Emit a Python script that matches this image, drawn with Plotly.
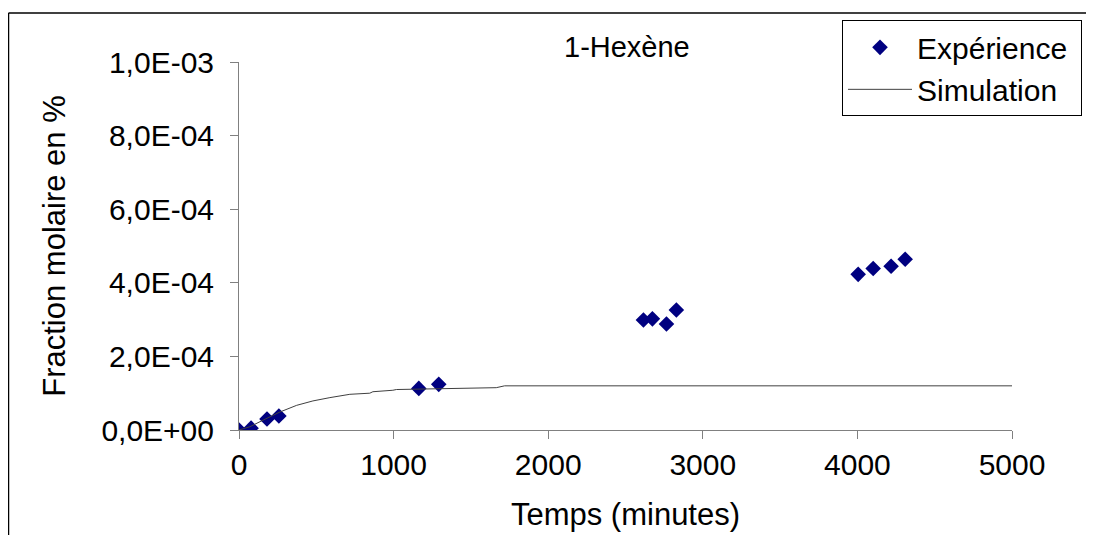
import plotly.graph_objects as go

# Data
exp_t = [0, 78, 181, 258, 1163, 1292, 2616, 2674, 2765, 2829, 4005, 4102, 4218, 4309]
exp_v = [0.0, 0.5e-5, 3.0e-5, 3.8e-5, 1.13e-4, 1.24e-4, 2.99e-4, 3.02e-4, 2.88e-4, 3.26e-4,
         4.23e-4, 4.39e-4, 4.45e-4, 4.64e-4]

sim_t = [0, 30, 71, 157, 265, 373, 478, 588, 717, 846, 866, 995, 1018, 1664, 1718, 5000]
sim_v = [0.0, 0.4e-5, 0.9e-5, 2.7e-5, 4.9e-5, 6.7e-5, 7.9e-5, 8.8e-5, 9.7e-5, 1.0e-4,
         1.04e-4, 1.08e-4, 1.1e-4, 1.15e-4, 1.2e-4, 1.2e-4]

x_ticks = [0, 1000, 2000, 3000, 4000, 5000]
y_ticks = [0, 2e-4, 4e-4, 6e-4, 8e-4, 1e-3]
y_ticktext = ["0,0E+00", "2,0E-04", "4,0E-04", "6,0E-04", "8,0E-04", "1,0E-03"]

FONT = "Liberation Sans, Arial, sans-serif"

fig = go.Figure()
fig.add_trace(go.Scatter(
    x=exp_t, y=exp_v, mode="markers", name="Expérience\u00a0",
    marker=dict(symbol="diamond", size=12, color="#000080", line=dict(width=0)),
))
fig.add_trace(go.Scatter(
    x=sim_t, y=sim_v, mode="lines", name="Simulation",
    line=dict(color="#404040", width=1),
))

# page body has an 8px margin: work in screen px and shift
OFF = 8
W, H = 1094, 535
PL, PR, PT, PB = 239, 1012, 59, 430          # plot area in screen px
L = PL - OFF
T = PT - OFF
pw, ph = PR - PL, PB - PT
R = W - L - pw
B = H - T - ph

def sx(px):
    return (px - PL) / pw

def sy(py):
    return (PB - py) / ph

fig.update_layout(
    width=W, height=H,
    margin=dict(l=L, r=R, t=T, b=B),
    paper_bgcolor="white", plot_bgcolor="white",
    font=dict(family=FONT, size=30, color="black"),
    showlegend=True,
    legend=dict(
        x=sx(842), y=sy(17), xanchor="left", yanchor="top",
        bordercolor="black", borderwidth=1, bgcolor="white",
        font=dict(family=FONT, size=30), tracegroupgap=0, itemwidth=64,
    ),
    xaxis=dict(
        range=[0, 5000], tickvals=x_ticks, ticktext=[str(v) for v in x_ticks],
        showline=True, linecolor="#808080", linewidth=1,
        ticks="outside", ticklen=8, tickcolor="#808080",
        showgrid=False, zeroline=False,
        tickfont=dict(family=FONT, size=30),
        title=dict(text="Temps (minutes)", font=dict(family=FONT, size=31), standoff=23),
    ),
    yaxis=dict(
        range=[0, 1e-3], tickvals=y_ticks, ticktext=y_ticktext,
        showline=True, linecolor="#808080", linewidth=1,
        ticks="outside", ticklen=8, tickcolor="#808080",
        showgrid=False, zeroline=False,
        tickfont=dict(family=FONT, size=30),
        ticklabelstandoff=10,
        title=dict(text="Fraction molaire en %", font=dict(family=FONT, size=31), standoff=26),
    ),
    annotations=[dict(
        text="1-Hexène", xref="paper", yref="paper",
        x=sx(627), y=sy(44), xanchor="center", yanchor="middle",
        showarrow=False, font=dict(family=FONT, size=29),
    )],
    shapes=[
        dict(type="line", xref="paper", yref="paper",
             x0=sx(8.5), x1=sx(8.5), y0=sy(9.5), y1=sy(560),
             line=dict(color="black", width=1.5)),
        dict(type="line", xref="paper", yref="paper",
             x0=sx(8.5), x1=sx(1110), y0=sy(9.5), y1=sy(9.5),
             line=dict(color="black", width=1.5)),
    ],
)

fig.write_html("out.html")
